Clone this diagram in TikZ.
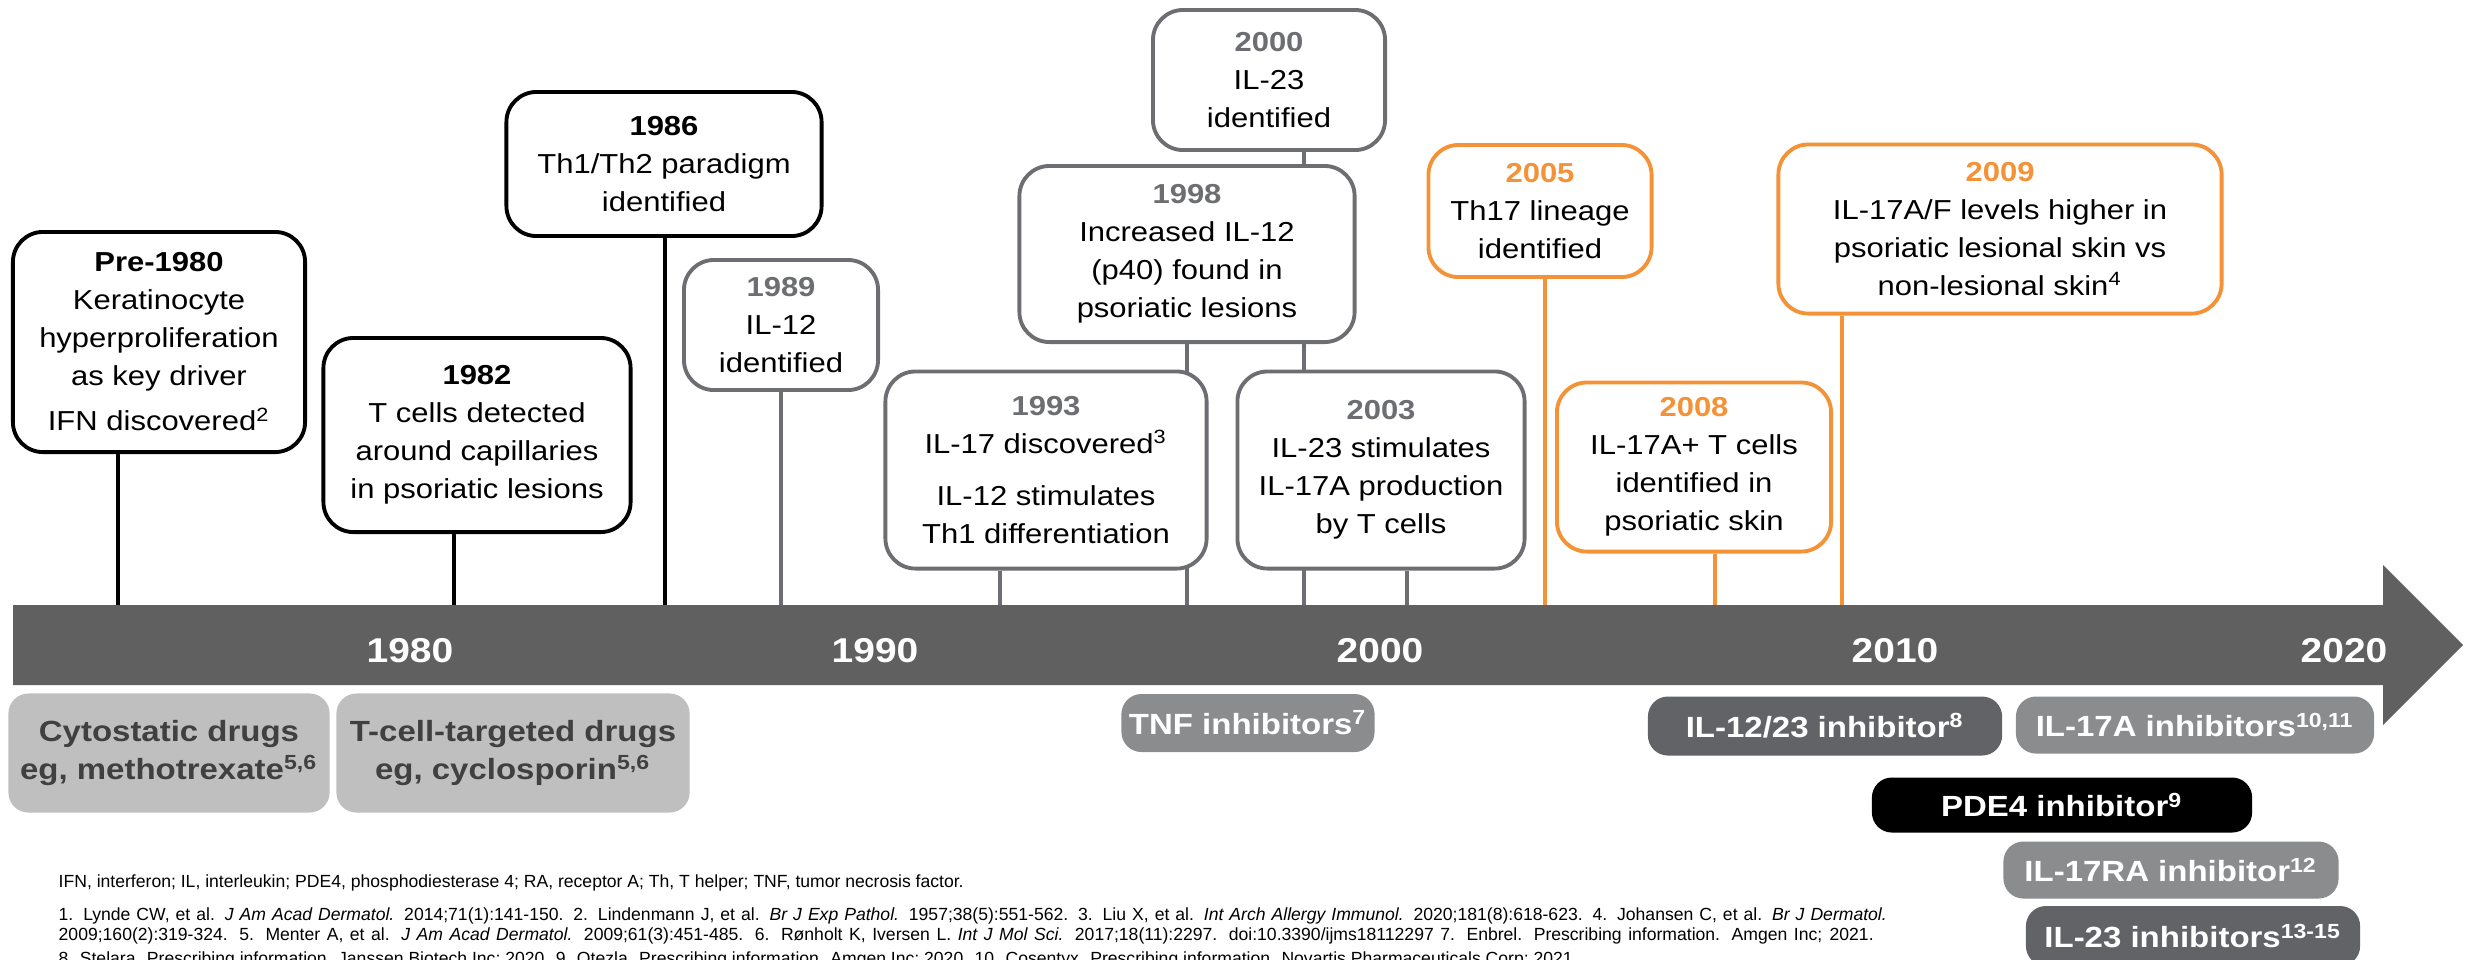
\documentclass[tikz,border=0pt]{standalone}
\usepackage{fontspec}
\setmainfont{Liberation Sans}[FakeStretch=1.13]
\newfontfamily\notefont{Liberation Sans}
\usetikzlibrary{backgrounds}

\definecolor{tlgray}{RGB}{109,110,113}
\definecolor{tlorange}{RGB}{244,146,56}
\definecolor{barcol}{RGB}{96,96,96}
\definecolor{drugpale}{RGB}{191,191,191}
\definecolor{drugmid}{RGB}{138,140,142}
\definecolor{drugdark}{RGB}{97,99,102}
\definecolor{drugtext}{RGB}{64,64,64}

\newcommand{\evtfont}{\fontsize{7.8}{10.8}\selectfont}
\newcommand{\drugfont}{\bfseries\fontsize{8.3}{10.6}\selectfont}
\newcommand{\yrfont}{\bfseries\fontsize{9.8}{11}\selectfont}
\newcommand{\evyear}[2]{\textcolor{#1}{\bfseries #2}}

\begin{document}
\begin{tikzpicture}[x=0.01cm,y=-0.01cm,
    evt/.style={draw,fill=white,rounded corners=0.3cm,line width=1.1pt,align=center,inner sep=0pt,font=\evtfont},
    evblk/.style={evt,draw=black},
    evgry/.style={evt,draw=tlgray},
    evorg/.style={evt,draw=tlorange},
    stem/.style={line width=0.95pt},
    drug/.style={rounded corners=0.2cm,align=center,inner sep=0pt,font=\drugfont,text=white},
    yr/.style={text=white,font=\yrfont,inner sep=0pt},
    note/.style={font=\notefont\fontsize{5}{6}\selectfont,inner sep=0pt,anchor=base west}]

\useasboundingbox (0,0) rectangle (2470,959);

% time bar
\fill[barcol] (13,605) -- (2383,605) -- (2383,565) -- (2463,645) -- (2383,725) -- (2383,685) -- (13,685) -- cycle;

\node[yr] (y1980) at (410,651) {1980};
\node[yr] (y1990) at (875,651) {1990};
\node[yr] (y2000) at (1380,651) {2000};
\node[yr] (y2010) at (1895,651) {2010};
\node[yr] (y2020) at (2344,651) {2020};

% events above the bar
\node[evblk,minimum width=2.92cm,minimum height=2.20cm] (pre1980) at (159,342)
  {\evyear{black}{Pre-1980}\\Keratinocyte\\hyperproliferation\\as key driver\\[2pt]IFN discovered\textsuperscript{2}};
\node[evblk,minimum width=3.07cm,minimum height=1.94cm] (b1982) at (477,435)
  {\evyear{black}{1982}\\T cells detected\\around capillaries\\in psoriatic lesions};
\node[evblk,minimum width=3.15cm,minimum height=1.44cm] (b1986) at (664,164)
  {\evyear{black}{1986}\\Th1/Th2 paradigm\\identified};
\node[evgry,minimum width=1.94cm,minimum height=1.30cm] (b1989) at (781,325)
  {\evyear{tlgray}{1989}\\IL-12\\identified};
\node[evgry,minimum width=3.21cm,minimum height=1.97cm] (b1993) at (1046,470)
  {\evyear{tlgray}{1993}\\IL-17 discovered\textsuperscript{3}\\[4pt]IL-12 stimulates\\Th1 differentiation};
\node[evgry,minimum width=3.35cm,minimum height=1.76cm] (b1998) at (1187,254)
  {\evyear{tlgray}{1998}\\Increased IL-12\\(p40) found in\\psoriatic lesions};
\node[evgry,minimum width=2.32cm,minimum height=1.40cm] (b2000) at (1269,80)
  {\evyear{tlgray}{2000}\\IL-23\\identified};
\node[evgry,minimum width=2.87cm,minimum height=1.97cm] (b2003) at (1381,470)
  {\evyear{tlgray}{2003}\\IL-23 stimulates\\IL-17A production\\by T cells};
\node[evorg,minimum width=2.23cm,minimum height=1.32cm] (b2005) at (1540,211)
  {\evyear{tlorange}{2005}\\Th17 lineage\\identified};
\node[evorg,minimum width=2.74cm,minimum height=1.69cm] (b2008) at (1694,467)
  {\evyear{tlorange}{2008}\\IL-17A+ T cells\\identified in\\psoriatic skin};
\node[evorg,minimum width=4.43cm,minimum height=1.69cm] (b2009) at (2000,229)
  {\evyear{tlorange}{2009}\\IL-17A/F levels higher in\\psoriatic lesional skin vs\\non-lesional skin\textsuperscript{4}};

% where the stems meet the bar
\coordinate (fpre) at (118,605);
\coordinate (f1982) at (454,605);
\coordinate (f1986) at (665,605);
\coordinate (f1989) at (781,605);
\coordinate (f1993) at (1000,605);
\coordinate (f1998) at (1187,605);
\coordinate (f2000) at (1304,605);
\coordinate (f2003) at (1407,605);
\coordinate (f2005) at (1545,605);
\coordinate (f2008) at (1715,605);
\coordinate (f2009) at (1842,605);

\begin{scope}[on background layer]
  \draw[stem] (pre1980.south -| fpre) -- (fpre);
  \draw[stem] (b1982.south -| f1982) -- (f1982);
  \draw[stem] (b1986.south -| f1986) -- (f1986);
  \draw[stem,tlgray] (b1989.south -| f1989) -- (f1989);
  \draw[stem,tlgray] (b1993.south -| f1993) -- (f1993);
  \draw[stem,tlgray] (b1998.south -| f1998) -- (f1998);
  \draw[stem,tlgray] (b2000.south -| f2000) -- (f2000);
  \draw[stem,tlgray] (b2003.south -| f2003) -- (f2003);
  \draw[stem,tlorange] (b2005.south -| f2005) -- (f2005);
  \draw[stem,tlorange] (b2008.south -| f2008) -- (f2008);
  \draw[stem,tlorange] (b2009.south -| f2009) -- (f2009);
\end{scope}

% treatments below the bar
\node[drug,fill=drugpale,text=drugtext,minimum width=3.21cm,minimum height=1.19cm] (cyto) at (169,753)
  {Cytostatic drugs\\eg, methotrexate\textsuperscript{5,6}};
\node[drug,fill=drugpale,text=drugtext,minimum width=3.53cm,minimum height=1.19cm] (tcell) at (513,753)
  {T-cell-targeted drugs\\eg, cyclosporin\textsuperscript{5,6}};
\node[drug,fill=drugmid,minimum width=2.53cm,minimum height=0.58cm] (tnf) at (1248,723)
  {TNF inhibitors\textsuperscript{7}};
\node[drug,fill=drugdark,minimum width=3.54cm,minimum height=0.59cm] (il1223) at (1825,726)
  {IL-12/23 inhibitor\textsuperscript{8}};
\node[drug,fill=drugmid,minimum width=3.58cm,minimum height=0.57cm] (il17a) at (2195,725)
  {IL-17A inhibitors\textsuperscript{10,11}};
\node[drug,fill=black,minimum width=3.80cm,minimum height=0.55cm] (pde4) at (2062,805)
  {PDE4 inhibitor\textsuperscript{9}};
\node[drug,fill=drugmid,minimum width=3.35cm,minimum height=0.57cm] (il17ra) at (2171,870)
  {IL-17RA inhibitor\textsuperscript{12}};
\node[drug,fill=drugdark,minimum width=3.34cm,minimum height=0.60cm] (il23) at (2193,936)
  {IL-23 inhibitors\textsuperscript{13-15}};

% footnotes
\node[note] (abbr) at (58,887)
  {IFN, interferon; IL, interleukin; PDE4, phosphodiesterase 4; RA, receptor A; Th, T helper; TNF, tumor necrosis factor.};
\node[note] (refa) at (58,920)
  {\makebox[18.27cm][s]{1. Lynde CW, et al. \textit{J Am Acad Dermatol.} 2014;71(1):141-150. 2. Lindenmann J, et al. \textit{Br J Exp Pathol.} 1957;38(5):551-562. 3. Liu X, et al. \textit{Int Arch Allergy Immunol.} 2020;181(8):618-623. 4. Johansen C, et al. \textit{Br J Dermatol.}}};
\node[note] (refb) at (58,940)
  {\makebox[18.14cm][s]{2009;160(2):319-324. 5. Menter A, et al. \textit{J Am Acad Dermatol.} 2009;61(3):451-485. 6. Rønholt K, Iversen L. \textit{Int J Mol Sci.} 2017;18(11):2297. doi:10.3390/ijms18112297 7. Enbrel. Prescribing information. Amgen Inc; 2021.}};
\node[note] (refc) at (58,964)
  {8. Stelara. Prescribing information. Janssen Biotech Inc; 2020. 9. Otezla. Prescribing information. Amgen Inc; 2020. 10. Cosentyx. Prescribing information. Novartis Pharmaceuticals Corp; 2021.};
\end{tikzpicture}
\end{document}
